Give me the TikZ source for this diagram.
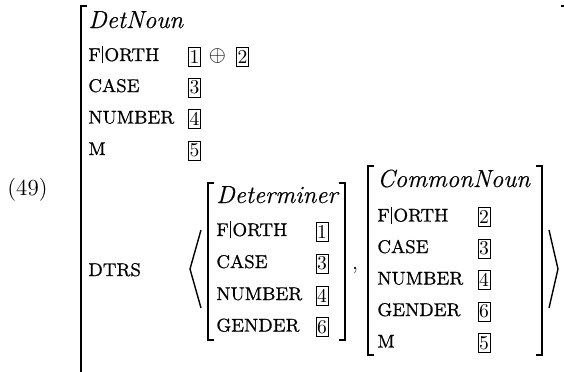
\documentclass[tikz,border=0pt]{standalone}
\usepackage{fontspec}
\newfontfamily\lblfont[FakeBold=0.7]{Latin Modern Roman}
\newfontfamily\typfont[FakeBold=0.35]{Latin Modern Roman}
\newcommand{\forthlbl}{F\kern0.7pt\rule[-1pt]{0.45pt}{8.5pt}\kern0.7pt ORTH}
\begin{document}
\begin{tikzpicture}[x=0.5pt,y=-0.5pt,
  lbl/.style={anchor=base west,inner sep=0pt,font=\lblfont\fontsize{9.2}{11}\selectfont},
  typ/.style={anchor=base west,inner sep=0pt,font=\typfont\fontsize{12.4}{14}\selectfont\itshape},
  tag/.style={draw,line width=0.45pt,inner sep=0pt,minimum width=6pt,minimum height=9.5pt,font=\fontsize{9.8}{11}\selectfont},
  brk/.style={line width=0.9pt},
  ang/.style={line width=0.7pt,line join=miter}]
\useasboundingbox (0,0) rectangle (564,371);
\node[anchor=center,inner sep=0pt,font=\fontsize{11.5}{13}\selectfont] (ex) at (27.5,190) {(49)};
% outer AVM
\draw[brk] (87,6) -- (81,6) -- (81,375);
\draw[brk] (561,6) -- (566,6);
\node[typ] (t0) at (88,28) {DetNoun};
\node[lbl] (a1) at (88,61) {\forthlbl};
\node[tag] (b1) at (194.5,56.5) {1};
\node[anchor=center,inner sep=0pt,font=\fontsize{11}{13}\selectfont] (op) at (217.5,56.5) {$\oplus$};
\node[tag] (b2) at (242.5,56.5) {2};
\node[lbl] (a2) at (88,92) {CASE};
\node[tag] (b3) at (194.5,87.5) {3};
\node[lbl] (a3) at (88,123.5) {NUMBER};
\node[tag] (b4) at (194.5,119) {4};
\node[lbl] (a4) at (88,155) {M};
\node[tag] (b5) at (194.5,150.5) {5};
\node[lbl] (a5) at (88,276) {DTRS};
% list angles
\draw[ang] (201,230) -- (190,269) -- (201,308);
\draw[ang] (549,230) -- (558,269) -- (549,308);
% Determiner AVM
\draw[brk] (214,183) -- (208,183) -- (208,340) -- (214,340);
\draw[brk] (339,183) -- (345,183) -- (345,340) -- (339,340);
\node[typ] (t1) at (216,203) {Determiner};
\node[lbl] (d1) at (216,236) {\forthlbl};
\node[tag] (e1) at (322,231.5) {1};
\node[lbl] (d2) at (216,268) {CASE};
\node[tag] (e2) at (322,263.5) {3};
\node[lbl] (d3) at (216,300) {NUMBER};
\node[tag] (e3) at (322,295.5) {4};
\node[lbl] (d4) at (216,331.5) {GENDER};
\node[tag] (e4) at (322,327) {6};
\node[anchor=base,inner sep=0pt,font=\fontsize{11}{13}\selectfont] (cm) at (355,269) {,};
% CommonNoun AVM
\draw[brk] (374,166) -- (368,166) -- (368,355) -- (374,355);
\draw[brk] (536,166) -- (542,166) -- (542,355) -- (536,355);
\node[typ] (t2) at (377,187) {CommonNoun};
\node[lbl] (c1) at (377,221.5) {\forthlbl};
\node[tag] (f1) at (484,217) {2};
\node[lbl] (c2) at (377,253) {CASE};
\node[tag] (f2) at (484,248.5) {3};
\node[lbl] (c3) at (377,284.5) {NUMBER};
\node[tag] (f3) at (484,280) {4};
\node[lbl] (c4) at (377,316) {GENDER};
\node[tag] (f4) at (484,311.5) {6};
\node[lbl] (c5) at (377,347.5) {M};
\node[tag] (f5) at (484,343) {5};
\end{tikzpicture}
\end{document}
